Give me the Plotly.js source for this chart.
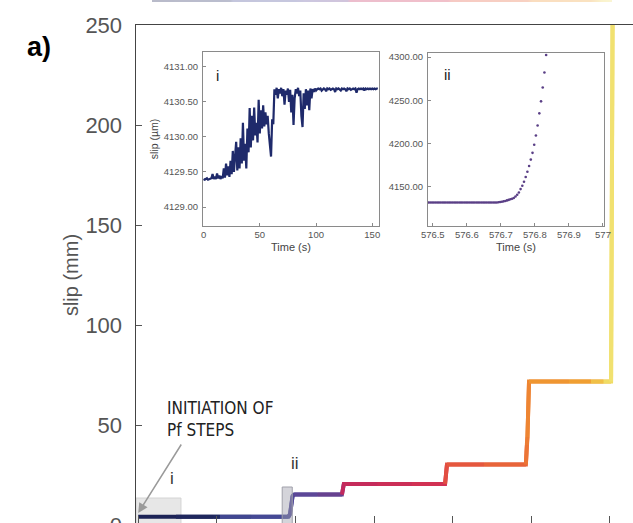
<!DOCTYPE html>
<html>
<head>
<meta charset="utf-8">
<script src="https://cdn.plot.ly/plotly-3.0.1.min.js"></script>
<style>
  html, body { margin: 0; padding: 0; overflow: hidden; background: #fff; }
  #chart { width: 700px; height: 560px; }
</style>
</head>
<body>
<div id="chart"></div>
<script>
// Cumulative slip over the whole Pf-step sequence (time in s, slip in mm)
const mainTime = [0, 120, 240, 260, 360, 478, 483, 487, 491, 496, 570, 648, 654, 760, 870, 976, 982, 1100, 1233, 1236, 1238, 1243, 1370, 1440, 1480, 1504, 1510];
const mainSlip = [4.13, 4.13, 4.13, 4.13, 4.13, 4.13, 5.5, 10.0, 14.5, 15.2, 15.2, 15.2, 20.5, 20.5, 20.5, 20.5, 30.2, 30.2, 30.2, 40.0, 44.0, 71.7, 71.7, 71.7, 71.7, 71.7, 300];

// Time colouring of the slip path
const stopTime = [0, 255, 265, 470, 500, 640, 650, 970, 980, 1230, 1245, 1440, 1475, 1510];
const stopHex = ['#1b2152', '#202a62', '#3f4690', '#474a96', '#584a9a', '#6a3f8c', '#c2295d', '#d43251', '#e3513f', '#ea6a37', '#ef9030', '#f0a232', '#f0d656', '#f1e272'];
const colorbarLevels = [0, 100, 200, 300, 400, 500, 600, 700, 800, 900, 1000, 1100, 1200, 1300, 1400, 1510];

// Inset i: first 155 s of the sequence (slip in µm)
const insetITime = [];
for (let s = 0; s <= 155; s++) insetITime.push(s);
const insetISlip = [
  4129.40, 4129.39, 4129.40, 4129.41, 4129.39, 4129.40, 4129.40, 4129.41,
  4129.47, 4129.40, 4129.43, 4129.40, 4129.48, 4129.41, 4129.45, 4129.40, 4129.44, 4129.41,
  4129.55, 4129.42, 4129.62, 4129.45, 4129.58, 4129.43, 4129.66,
  4129.47, 4129.80, 4129.50, 4129.72, 4129.93, 4129.52,
  4129.85, 4129.55, 4129.98, 4129.62, 4130.20, 4129.66,
  4129.90, 4129.55, 4130.12, 4129.78, 4130.41, 4129.85,
  4130.30, 4129.95, 4130.42, 4130.02, 4130.20, 4129.92,
  4130.53, 4130.05, 4130.38, 4130.12, 4130.45, 4130.15,
  4130.35, 4130.18, 4130.30, 4130.05, 4129.90, 4129.72,
  4130.25, 4130.18, 4130.68, 4130.60, 4130.70, 4130.55,
  4130.68, 4130.62, 4130.70, 4130.58, 4130.68, 4130.46,
  4130.66, 4130.60, 4130.69, 4130.50, 4130.67, 4130.35,
  4130.60, 4130.17, 4130.55, 4130.68, 4130.62, 4130.70,
  4130.58, 4130.66, 4130.30, 4130.14, 4130.62, 4130.40,
  4130.68, 4130.45, 4130.66, 4130.38, 4130.69, 4130.55,
  4130.68, 4130.64, 4130.69, 4130.66, 4130.68, 4130.69,
  4130.68, 4130.69, 4130.66, 4130.68, 4130.69, 4130.68, 4130.65, 4130.69, 4130.68, 4130.69,
  4130.67, 4130.68, 4130.69, 4130.68, 4130.64, 4130.69, 4130.68, 4130.69, 4130.68, 4130.66,
  4130.69, 4130.68, 4130.69, 4130.68, 4130.65, 4130.69, 4130.68, 4130.69, 4130.67, 4130.68,
  4130.69, 4130.68, 4130.69, 4130.63, 4130.68, 4130.69, 4130.68, 4130.69, 4130.68, 4130.69,
  4130.66, 4130.69, 4130.68, 4130.69, 4130.68, 4130.69, 4130.68, 4130.69, 4130.68, 4130.69,
  4130.68, 4130.69, 4130.69
];

// Inset ii: onset of the large slip event (time in s, slip in µm)
const insetIITime = [
  576.488, 576.493, 576.498, 576.503, 576.508, 576.513, 576.518, 576.523, 576.528, 576.533,
  576.538, 576.543, 576.548, 576.553, 576.558, 576.563, 576.568, 576.573, 576.578, 576.583,
  576.588, 576.593, 576.598, 576.603, 576.608, 576.613, 576.618, 576.623, 576.628, 576.633,
  576.638, 576.643, 576.648, 576.653, 576.658, 576.663, 576.668, 576.673, 576.678, 576.683,
  576.688, 576.693, 576.698, 576.703, 576.708, 576.713, 576.718, 576.723, 576.728, 576.733,
  576.738, 576.743, 576.748, 576.753, 576.758, 576.763, 576.768, 576.773, 576.778, 576.783,
  576.788, 576.793, 576.798, 576.803, 576.808, 576.813, 576.818, 576.823, 576.828, 576.833
];
const insetIISlip = [
  4131.8, 4131.8, 4131.8, 4131.8, 4131.8, 4131.8, 4131.8, 4131.8, 4131.8, 4131.8,
  4131.8, 4131.8, 4131.8, 4131.8, 4131.8, 4131.8, 4131.8, 4131.8, 4131.8, 4131.8,
  4131.8, 4131.8, 4131.8, 4131.8, 4131.8, 4131.8, 4131.8, 4131.8, 4131.8, 4131.8,
  4131.8, 4131.8, 4131.8, 4131.8, 4131.8, 4131.8, 4131.8, 4131.8, 4131.8, 4131.8,
  4131.8, 4132.0, 4132.3, 4132.7, 4133.1, 4133.6, 4134.2, 4134.8, 4135.5, 4136.2,
  4136.9, 4138.7, 4140.7, 4143.4, 4147.3, 4151.2, 4155.8, 4161.3, 4167.4, 4174.0,
  4181.4, 4189.2, 4198.5, 4209.3, 4220.9, 4234.9, 4248.8, 4264.8, 4282.2, 4302.3
];

const insetIYTicks = [4129.0, 4129.5, 4130.0, 4130.5, 4131.0];
const insetIIYTicks = [4150, 4200, 4250, 4300];

function hexToRgb(h) {
  return [parseInt(h.slice(1, 3), 16), parseInt(h.slice(3, 5), 16), parseInt(h.slice(5, 7), 16)];
}
function colorAt(t) {
  if (t <= stopTime[0]) return stopHex[0];
  for (let i = 1; i < stopTime.length; i++) {
    if (t <= stopTime[i]) {
      const f = (t - stopTime[i - 1]) / (stopTime[i] - stopTime[i - 1]);
      const a = hexToRgb(stopHex[i - 1]), b = hexToRgb(stopHex[i]);
      const c = a.map((v, k) => Math.round(v + (b[k] - v) * f));
      return 'rgb(' + c.join(',') + ')';
    }
  }
  return stopHex[stopHex.length - 1];
}

const FONT = 'Liberation Sans, Arial, sans-serif';
const traces = [];

// Slip path, one piece per interval, coloured by time
for (let i = 0; i < mainTime.length - 1; i++) {
  const end = Math.min(i + 3, mainTime.length);
  traces.push({
    x: mainTime.slice(i, end), y: mainSlip.slice(i, end),
    xaxis: 'x', yaxis: 'y', mode: 'lines', hoverinfo: 'skip', showlegend: false,
    line: { color: colorAt((mainTime[i] + mainTime[i + 1]) / 2), width: 4 }
  });
}

// Time colour strip along the top edge
const tMax = stopTime[stopTime.length - 1];
traces.push({
  type: 'heatmap', z: [colorbarLevels], x: colorbarLevels,
  xaxis: 'x3', yaxis: 'y3', zmin: 0, zmax: tMax, zsmooth: 'best',
  colorscale: stopTime.map((t, i) => [t / tMax, stopHex[i]]),
  showscale: false, opacity: 0.3, hoverinfo: 'skip'
});

// Inset i
traces.push({
  x: insetITime, y: insetISlip, xaxis: 'x2', yaxis: 'y2', mode: 'lines',
  line: { color: '#1f2a6b', width: 2.2 }, showlegend: false, hoverinfo: 'skip'
});

// Inset ii
traces.push({
  x: insetIITime, y: insetIISlip, xaxis: 'x4', yaxis: 'y4', mode: 'markers',
  marker: { color: '#5a3f86', size: 2.6 }, showlegend: false, hoverinfo: 'skip'
});

const insetAxis = {
  showline: true, linecolor: '#8a8a8a', linewidth: 1, mirror: true,
  ticks: 'inside', ticklen: 3, tickcolor: '#8a8a8a', showgrid: false, zeroline: false,
  tickfont: { family: FONT, size: 9.5, color: '#555' }
};

const layout = {
  width: 700, height: 560,
  margin: { l: 136, r: 10, t: 0, b: 35 },
  paper_bgcolor: '#fff', plot_bgcolor: 'rgba(0,0,0,0)',
  showlegend: false,
  font: { family: FONT },
  xaxis: {
    domain: [0, 1], range: [-7, 1755], dtick: 250, showticklabels: false,
    showline: true, linecolor: '#444', linewidth: 1.5, mirror: true,
    ticks: 'inside', ticklen: 9, tickcolor: '#555', showgrid: false, zeroline: false
  },
  yaxis: {
    domain: [0, 500 / 525], range: [0, 250], dtick: 50,
    showline: true, linecolor: '#444', linewidth: 1.5, mirror: true,
    ticks: 'inside', ticklen: 6, tickcolor: '#555', showgrid: false, zeroline: false,
    tickfont: { size: 22, color: '#555' }, ticklabelstandoff: 8,
    title: { text: 'slip (mm)', font: { size: 20, color: '#555' }, standoff: 1 }
  },
  xaxis2: Object.assign({}, insetAxis, {
    anchor: 'y2', domain: [67 / 554, 243 / 554], range: [-0.5, 156], dtick: 50,
    title: { text: 'Time (s)', font: { size: 11, color: '#444' }, standoff: 3 }
  }),
  yaxis2: Object.assign({}, insetAxis, {
    anchor: 'x2', domain: [1 - 226 / 525, 1 - 52 / 525], range: [4128.73, 4131.21],
    tickvals: insetIYTicks, tickformat: '.2f', ticklabelstandoff: 2,
    title: { text: 'slip (µm)', font: { size: 10.5, color: '#444' }, standoff: 3 }
  }),
  xaxis4: Object.assign({}, insetAxis, {
    anchor: 'y4', domain: [292 / 554, 468 / 554], range: [576.486, 577.003], dtick: 0.1,
    title: { text: 'Time (s)', font: { size: 11, color: '#444' }, standoff: 3 }
  }),
  yaxis4: Object.assign({}, insetAxis, {
    anchor: 'x4', domain: [1 - 226 / 525, 1 - 53 / 525], range: [4104.6, 4304.7],
    tickvals: insetIIYTicks, tickformat: '.2f', ticklabelstandoff: 2
  }),
  xaxis3: {
    anchor: 'y3', domain: [16 / 554, 476 / 554], range: [0, tMax],
    visible: false, fixedrange: true
  },
  yaxis3: {
    anchor: 'x3', domain: [1 - 2 / 525, 1], range: [-0.5, 0.5],
    visible: false, fixedrange: true
  },
  shapes: [
    { type: 'rect', xref: 'x', yref: 'y', x0: -7, x1: 136, y0: 0, y1: 13.5,
      fillcolor: 'rgba(215,215,215,0.6)', line: { color: '#d4d4d4', width: 1 }, layer: 'below' },
    { type: 'rect', xref: 'x', yref: 'y', x0: 458, x1: 490, y0: 0, y1: 19,
      fillcolor: 'rgba(160,160,172,0.45)', line: { color: '#a0a0aa', width: 1 }, layer: 'above' }
  ],
  annotations: [
    { xref: 'paper', yref: 'paper', x: (25 - 136) / 554, y: 1 - 30 / 525,
      text: '<b>a)</b>', showarrow: false, font: { size: 27, color: '#000' } },
    { xref: 'paper', yref: 'paper', x: (165 - 136) / 554, y: 1 - 419 / 525,
      xanchor: 'left', yanchor: 'middle', align: 'left', showarrow: false,
      text: 'INITIATION OF<br>Pf STEPS',
      font: { family: 'Liberation Sans Narrow, DejaVu Sans Condensed, Liberation Sans, sans-serif', size: 17, color: '#222' } },
    { xref: 'x', yref: 'y', x: 0, y: 6, ax: 44, ay: -70, text: '',
      showarrow: true, arrowhead: 2, arrowsize: 1.3, arrowwidth: 1.5, arrowcolor: '#9a9a9a' },
    { xref: 'paper', yref: 'paper', x: (168 - 136) / 554, y: 1 - 490 / 525,
      text: 'i', showarrow: false, font: { size: 17, color: '#333' } },
    { xref: 'paper', yref: 'paper', x: (289 - 136) / 554, y: 1 - 475 / 525,
      text: 'ii', showarrow: false, font: { size: 17, color: '#333' } },
    { xref: 'x2 domain', yref: 'y2 domain', x: 0.0625, y: 0.925,
      text: 'i', showarrow: false, font: { size: 15, color: '#222' } },
    { xref: 'x4 domain', yref: 'y4 domain', x: 0.08, y: 0.935,
      text: 'ii', showarrow: false, font: { size: 15, color: '#222' } }
  ]
};

Plotly.newPlot('chart', traces, layout, { staticPlot: true, displayModeBar: false });
</script>
</body>
</html>
